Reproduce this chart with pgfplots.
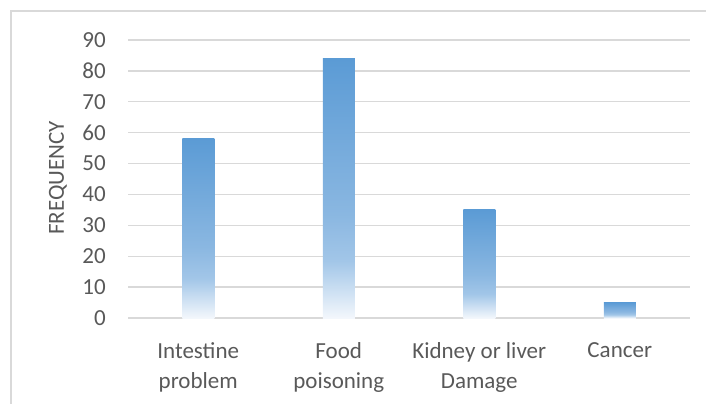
\documentclass[border=0pt]{standalone}
\usepackage{pgfplots}
\pgfplotsset{compat=1.18}
\usepackage{fontspec}
\setmainfont{Carlito}

\definecolor{barblue}{HTML}{5B9BD5}
\definecolor{barmid}{HTML}{8AB7E1}
\definecolor{barlight}{HTML}{A2C6E8}
\definecolor{barpale}{HTML}{F3F7FC}
\definecolor{gridgray}{HTML}{D9D9D9}
\definecolor{labelgray}{HTML}{595959}

% vertical fade used for every bar: pale at the base, full blue at the top
\pgfdeclareverticalshading{barfade}{100bp}{%
  color(0bp)=(barpale); color(25bp)=(barpale);
  color(36bp)=(barlight); color(45bp)=(barmid);
  color(75bp)=(barblue); color(100bp)=(barblue)}

\pgfplotsset{fadebar/.style={ybar, bar width=32bp, bar shift=0pt,
    draw=none, mark=none, shade, shading=barfade}}

\begin{document}
\begin{tikzpicture}[x=1bp,y=1bp]
\useasboundingbox (0,0) rectangle (706,403);
% chart area frame
\draw[gridgray, line width=1.2bp] (11,-20) -- (11,392) -- (730,392);

\begin{axis}[
  at={(128bp,85bp)}, anchor=south west,
  scale only axis, width=562bp, height=278bp,
  xmin=-0.5, xmax=3.5, ymin=0, ymax=90,
  xtick={0,1,2,3},
  xticklabels={Intestine\\problem, Food\\poisoning, Kidney or liver\\Damage, Cancer},
  ytick={0,10,...,90},
  axis line style={draw=none},
  major tick length=0pt,
  ymajorgrids, grid style={gridgray, line width=1.3bp},
  /pgf/number format/assume math mode=true,
  tick label style={font=\fontsize{23bp}{30bp}\selectfont, text=labelgray},
  yticklabel style={anchor=east, inner sep=0pt, xshift=-22bp},
  xticklabel style={anchor=north, inner sep=0pt, yshift=-24bp, align=center},
  ylabel={FREQUENCY},
  ylabel style={font=\fontsize{23bp}{28bp}\selectfont, text=labelgray,
    at={(axis description cs:-0.1246,0.504)}, anchor=center, inner sep=0pt},
  clip=false,
]
% one plot per category so that each bar gets its own fade
\addplot[fadebar] coordinates {(0,58)};
\addplot[fadebar] coordinates {(1,84)};
\addplot[fadebar] coordinates {(2,35)};
\addplot[fadebar] coordinates {(3,5)};
\end{axis}
\end{tikzpicture}
\end{document}
